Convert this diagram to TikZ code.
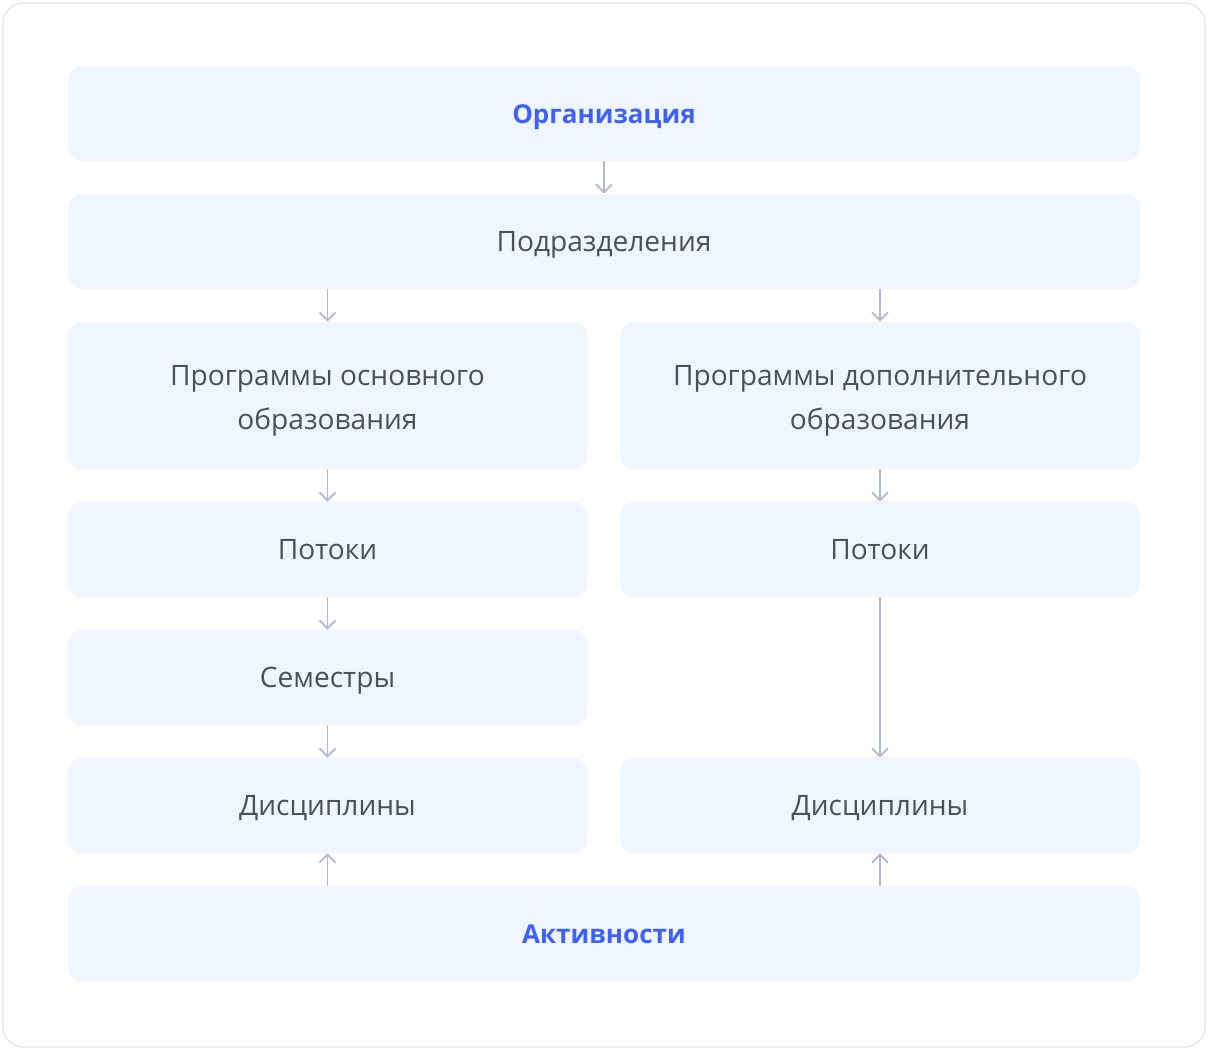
\documentclass[tikz,border=0pt]{standalone}
\usepackage{fontspec}
\setmainfont{Open Sans}
\usetikzlibrary{arrows.meta}

\definecolor{boxfill}{HTML}{EFF6FF}
\definecolor{txtgray}{HTML}{4B505C}
\definecolor{txtblue}{HTML}{4061F5}
\definecolor{arrgray}{HTML}{B4B7D2}
\definecolor{cardline}{HTML}{E6E7EA}

\begin{document}
\begin{tikzpicture}
[>={Straight Barb[length=1.6mm,width=3.2mm]},
 box/.style={fill=boxfill,rounded corners=0.28cm,inner sep=0pt,align=center,
   text=txtgray,font=\fontsize{16}{25}\selectfont,text height=0.41cm,text depth=0cm},
 wide/.style={box,minimum width=21.44cm,minimum height=1.9cm},
 half/.style={box,minimum width=10.4cm,minimum height=1.9cm},
 twoline/.style={minimum height=2.94cm,text height=1.35cm,text depth=0cm},
 title/.style={text=txtblue,font=\fontsize{14.8}{25}\selectfont\bfseries,text height=0.38cm},
 arr/.style={->,draw=arrgray,line width=1pt}]

% the card
\useasboundingbox (0,0) rectangle (24.16,-21.04);
\draw[cardline,fill=white,line width=0.8pt,rounded corners=0.4cm] (0.06,-0.06) rectangle (24.10,-20.94);

% the boxes
\node[wide,title] (org) at (12.08,-2.27) {Организация};
\node[wide] (podr) at (12.08,-4.83) {Подразделения};
\node[half,twoline] (progL) at (6.55,-7.91) {Программы основного\\образования};
\node[half,twoline] (progR) at (17.6,-7.91) {Программы дополнительного\\образования};
\node[half] (potL) at (6.55,-10.99) {Потоки};
\node[half] (potR) at (17.6,-10.99) {Потоки};
\node[half] (sem) at (6.55,-13.55) {Семестры};
\node[half] (discL) at (6.55,-16.11) {Дисциплины};
\node[half] (discR) at (17.6,-16.11) {Дисциплины};
\node[wide,title] (act) at (12.08,-18.67) {Активности};

% the arrows
\draw[arr] (org) -- (podr);
\draw[arr] (progL |- podr.south) -- (progL);
\draw[arr] (progR |- podr.south) -- (progR);
\draw[arr] (progL) -- (potL);
\draw[arr] (progR) -- (potR);
\draw[arr] (potL) -- (sem);
\draw[arr] (sem) -- (discL);
\draw[arr] (potR) -- (discR);
\draw[arr] (discL |- act.north) -- (discL);
\draw[arr] (discR |- act.north) -- (discR);

\end{tikzpicture}
\end{document}
